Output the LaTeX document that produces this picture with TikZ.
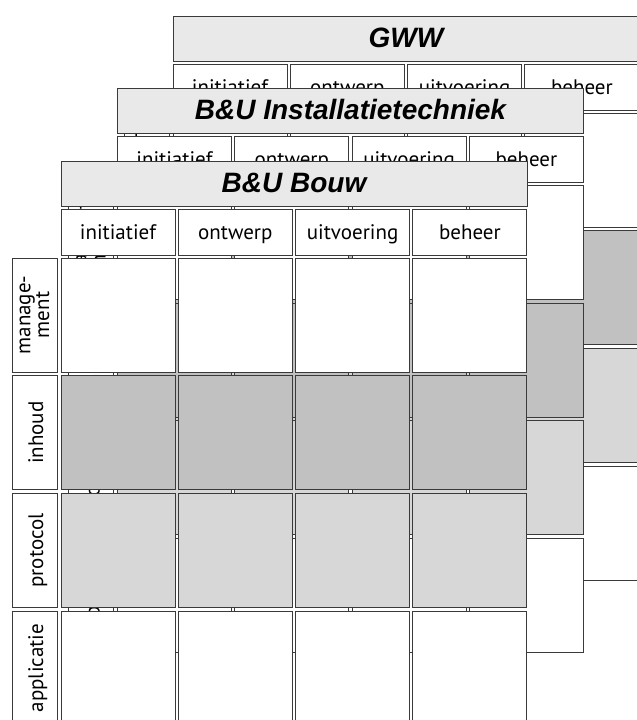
\documentclass[tikz,border=0pt]{standalone}
\usepackage{fontspec}
\setmainfont{PT Sans}
\newfontfamily\titlefont{Liberation Sans}
\definecolor{rowA}{HTML}{C1C1C1}
\definecolor{rowB}{HTML}{D7D7D7}
\definecolor{titlefill}{HTML}{E9E9E9}
\definecolor{edge}{HTML}{3A3A3A}
\newcommand\mgmttext{manage-\\ment}
\tikzset{
  cellbox/.style={draw=edge, line width=1pt, inner sep=0pt, outer sep=0pt,
    minimum width=114pt, minimum height=114pt, fill=white},
  titlebox/.style={cellbox, fill=titlefill, minimum width=466pt, minimum height=45pt,
    text height=20pt, text depth=3pt,
    font=\titlefont\bfseries\itshape\fontsize{28}{30}\selectfont},
  headbox/.style={cellbox, minimum height=46pt, text height=17pt, text depth=3pt,
    font=\fontsize{21}{24}\selectfont},
  labelbox/.style={cellbox, rotate=90, minimum width=114pt, minimum height=45pt,
    align=center, font=\fontsize{21}{17}\selectfont},
  lblone/.style={text height=17pt, text depth=0pt},
  lbltwo/.style={},
}
\newcommand\drawlayer[4]{%
  \node[titlebox] (#1-title) at ({#2+233},{#3+22.5}) {#4};
  \foreach \j/\t in {0/initiatief,1/ontwerp,2/uitvoering,3/beheer}
    \node[headbox] (#1-h\j) at ({#2+117.3*\j+57},{#3+71}) {\t};
  \foreach \i/\l/\f/\s in {0/\mgmttext/white/lbltwo,1/inhoud/rowA/lblone,2/protocol/rowB/lblone,3/applicatie/white/lblone}{
    \node[labelbox, \s] (#1-l\i) at ({#2-26.5},{#3+97+117.7*\i+57}) {\l};
    \foreach \j in {0,...,3}
      \node[cellbox, fill=\f] (#1-c\i\j) at ({#2+117.3*\j+57},{#3+97+117.7*\i+57}) {};
  }
}
\begin{document}
\begin{tikzpicture}[x=1pt,y=-1pt]
  \useasboundingbox (0,0) rectangle (637,720);
  \clip (0,0) rectangle (637,720);
  \drawlayer{gww}{173}{16}{GWW}
  \drawlayer{inst}{117.5}{88.5}{B\&U Installatietechniek}
  \drawlayer{bouw}{61}{161}{B\&U Bouw}
\end{tikzpicture}
\end{document}
